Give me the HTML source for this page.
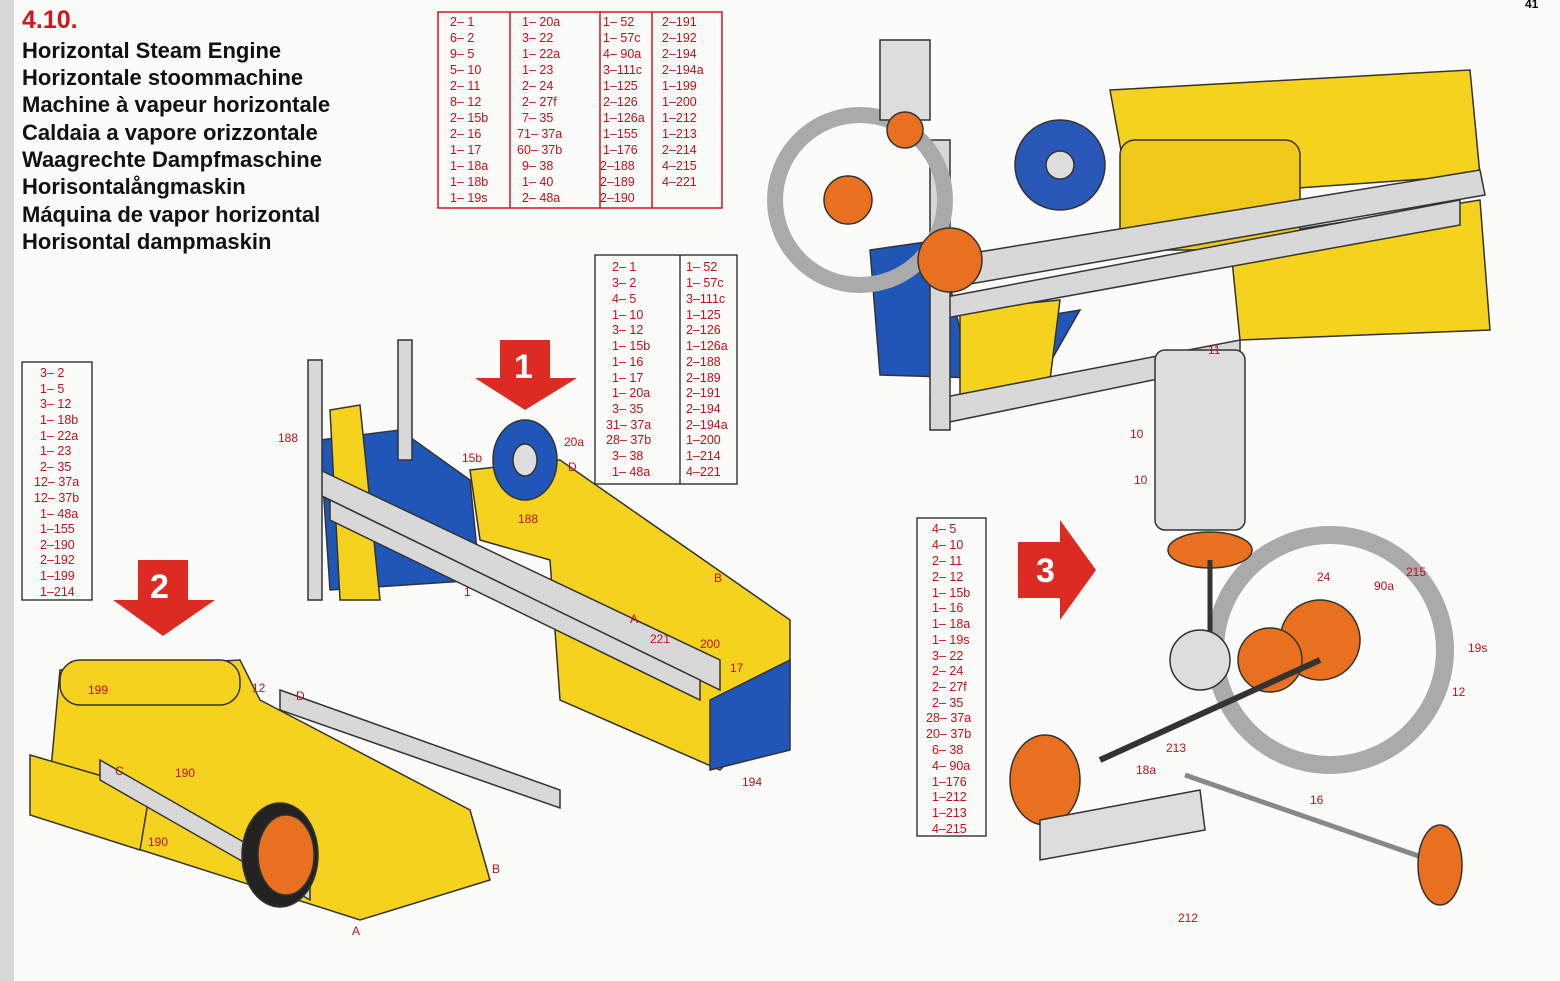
<!DOCTYPE html>
<html><head><meta charset="utf-8"><style>
html,body{margin:0;padding:0;background:#fbfbf9}
svg{display:block}
.t{font-family:"Liberation Sans",sans-serif;font-weight:bold;font-size:22px;fill:#111}
.n{font-family:"Liberation Sans",sans-serif;font-size:12.5px;fill:#c0101a}
.l{font-family:"Liberation Sans",sans-serif;font-size:12px;fill:#c0101a}
</style></head><body>
<svg width="1560" height="981" viewBox="0 0 1560 981" xmlns="http://www.w3.org/2000/svg">
<rect x="0" y="0" width="1560" height="981" fill="#fbfbf9"/>
<rect x="0" y="0" width="14" height="981" fill="#d8d8d4"/>
<text x="22" y="28" style="font-family:'Liberation Sans',sans-serif;font-weight:bold;font-size:25px;fill:#d4141e">4.10.</text>
<text class="t" x="22" y="58">Horizontal Steam Engine</text>
<text class="t" x="22" y="85">Horizontale stoommachine</text>
<text class="t" x="22" y="112">Machine à vapeur horizontale</text>
<text class="t" x="22" y="140">Caldaia a vapore orizzontale</text>
<text class="t" x="22" y="167">Waagrechte Dampfmaschine</text>
<text class="t" x="22" y="194">Horisontalångmaskin</text>
<text class="t" x="22" y="222">Máquina de vapor horizontal</text>
<text class="t" x="22" y="249">Horisontal dampmaskin</text>
<text x="1525" y="8" style="font-family:'Liberation Sans',sans-serif;font-weight:bold;font-size:12px">41</text>

<g stroke="#d4141e" stroke-width="1.5" fill="none">
<rect x="438" y="12" width="284" height="196"/>
<line x1="510" y1="12" x2="510" y2="208"/><line x1="600" y1="12" x2="600" y2="208"/><line x1="652" y1="12" x2="652" y2="208"/>
</g>
<g class="n">
<text x="450" y="26">2–  1</text><text x="450" y="42">6–  2</text><text x="450" y="58">9–  5</text><text x="450" y="74">5–  10</text><text x="450" y="90">2–  11</text><text x="450" y="106">8–  12</text><text x="450" y="122">2–  15b</text><text x="450" y="138">2–  16</text><text x="450" y="154">1–  17</text><text x="450" y="170">1–  18a</text><text x="450" y="186">1–  18b</text><text x="450" y="202">1–  19s</text>
<text x="522" y="26">1–  20a</text><text x="522" y="42">3–  22</text><text x="522" y="58">1–  22a</text><text x="522" y="74">1–  23</text><text x="522" y="90">2–  24</text><text x="522" y="106">2–  27f</text><text x="522" y="122">7–  35</text><text x="517" y="138">71–  37a</text><text x="517" y="154">60–  37b</text><text x="522" y="170">9–  38</text><text x="522" y="186">1–  40</text><text x="522" y="202">2–  48a</text>
<text x="603" y="26">1–  52</text><text x="603" y="42">1–  57c</text><text x="603" y="58">4–  90a</text><text x="603" y="74">3–111c</text><text x="603" y="90">1–125</text><text x="603" y="106">2–126</text><text x="603" y="122">1–126a</text><text x="603" y="138">1–155</text><text x="603" y="154">1–176</text><text x="600" y="170">2–188</text><text x="600" y="186">2–189</text><text x="600" y="202">2–190</text>
<text x="662" y="26">2–191</text><text x="662" y="42">2–192</text><text x="662" y="58">2–194</text><text x="662" y="74">2–194a</text><text x="662" y="90">1–199</text><text x="662" y="106">1–200</text><text x="662" y="122">1–212</text><text x="662" y="138">1–213</text><text x="662" y="154">2–214</text><text x="662" y="170">4–215</text><text x="662" y="186">4–221</text>
</g>

<g stroke="#222" stroke-width="1.3" fill="none">
<rect x="595" y="255" width="142" height="229"/><line x1="680" y1="255" x2="680" y2="484"/>
</g>
<g class="n">
<text x="612" y="271">2–  1</text><text x="612" y="287">3–  2</text><text x="612" y="303">4–  5</text><text x="612" y="319">1–  10</text><text x="612" y="334">3–  12</text><text x="612" y="350">1–  15b</text><text x="612" y="366">1–  16</text><text x="612" y="382">1–  17</text><text x="612" y="397">1–  20a</text><text x="612" y="413">3–  35</text><text x="606" y="429">31–  37a</text><text x="606" y="444">28–  37b</text><text x="612" y="460">3–  38</text><text x="612" y="476">1–  48a</text>
<text x="686" y="271">1–  52</text><text x="686" y="287">1–  57c</text><text x="686" y="303">3–111c</text><text x="686" y="319">1–125</text><text x="686" y="334">2–126</text><text x="686" y="350">1–126a</text><text x="686" y="366">2–188</text><text x="686" y="382">2–189</text><text x="686" y="397">2–191</text><text x="686" y="413">2–194</text><text x="686" y="429">2–194a</text><text x="686" y="444">1–200</text><text x="686" y="460">1–214</text><text x="686" y="476">4–221</text>
</g>

<rect x="22" y="362" width="70" height="238" fill="none" stroke="#222" stroke-width="1.3"/>
<g class="n">
<text x="40" y="377">3–  2</text><text x="40" y="393">1–  5</text><text x="40" y="408">3–  12</text><text x="40" y="424">1–  18b</text><text x="40" y="440">1–  22a</text><text x="40" y="455">1–  23</text><text x="40" y="471">2–  35</text><text x="34" y="486">12–  37a</text><text x="34" y="502">12–  37b</text><text x="40" y="518">1–  48a</text><text x="40" y="533">1–155</text><text x="40" y="549">2–190</text><text x="40" y="564">2–192</text><text x="40" y="580">1–199</text><text x="40" y="596">1–214</text>
</g>

<rect x="917" y="518" width="69" height="318" fill="none" stroke="#222" stroke-width="1.3"/>
<g class="n">
<text x="932" y="533">4–  5</text><text x="932" y="549">4–  10</text><text x="932" y="565">2–  11</text><text x="932" y="581">2–  12</text><text x="932" y="597">1–  15b</text><text x="932" y="612">1–  16</text><text x="932" y="628">1–  18a</text><text x="932" y="644">1–  19s</text><text x="932" y="660">3–  22</text><text x="932" y="675">2–  24</text><text x="932" y="691">2–  27f</text><text x="932" y="707">2–  35</text><text x="926" y="722">28–  37a</text><text x="926" y="738">20–  37b</text><text x="932" y="754">6–  38</text><text x="932" y="770">4–  90a</text><text x="932" y="786">1–176</text><text x="932" y="801">1–212</text><text x="932" y="817">1–213</text><text x="932" y="833">4–215</text>
</g>

<g fill="#dd2a22">
<polygon points="500,340 550,340 550,378 577,378 525,410 475,378 500,378"/>
<polygon points="138,560 188,560 188,600 215,600 163,636 113,600 138,600"/>
<polygon points="1018,542 1060,542 1060,520 1096,570 1060,620 1060,598 1018,598"/>
</g>
<g style="font-family:'Liberation Sans',sans-serif;font-weight:bold;font-size:34px;fill:#fff">
<text x="514" y="378">1</text><text x="150" y="598">2</text><text x="1036" y="582">3</text>
</g>

<g stroke="#333" stroke-width="1.5">
<polygon points="1110,90 1470,70 1480,175 1130,200" fill="#f4d21e"/>
<polygon points="1230,240 1480,200 1490,330 1240,340" fill="#f4d21e"/>
<rect x="1120" y="140" width="180" height="110" rx="15" fill="#f0c81a"/>
<polygon points="870,250 940,240 960,330 1080,310 1040,380 880,375" fill="#1f56b8"/>
<polygon points="960,310 1060,300 1050,380 960,400" fill="#f4d21e"/>
<polygon points="930,260 1480,170 1485,195 935,290" fill="#d8d8d8"/>
<polygon points="930,300 1460,200 1460,225 935,320" fill="#d8d8d8"/>
<polygon points="930,400 1240,340 1240,362 935,425" fill="#d8d8d8"/>
<rect x="930" y="140" width="20" height="290" fill="#d8d8d8"/>
<circle cx="860" cy="200" r="85" fill="none" stroke="#aaa" stroke-width="16"/>
<circle cx="1060" cy="165" r="45" fill="#2a58b8"/>
<circle cx="1060" cy="165" r="14" fill="#ddd"/>
<circle cx="950" cy="260" r="32" fill="#e8701e"/>
<circle cx="848" cy="200" r="24" fill="#e8701e"/>
<rect x="880" y="40" width="50" height="80" fill="#ddd"/>
<circle cx="905" cy="130" r="18" fill="#e8701e"/>
</g>

<g stroke="#333" stroke-width="1.5">
<polygon points="320,440 400,430 470,480 480,580 330,590" fill="#1f56b8"/>
<polygon points="330,410 360,405 380,600 340,600" fill="#f4d21e"/>
<polygon points="470,470 560,460 790,620 790,700 720,770 560,700 550,560 480,540" fill="#f4d21e"/>
<polygon points="710,700 790,660 790,750 710,770" fill="#1f56b8"/>
<polygon points="320,470 720,660 720,690 320,495" fill="#d8d8d8"/>
<polygon points="330,500 700,680 700,700 330,520" fill="#d8d8d8"/>
<rect x="308" y="360" width="14" height="240" fill="#d8d8d8"/>
<rect x="398" y="340" width="14" height="120" fill="#d8d8d8"/>
<ellipse cx="525" cy="460" rx="32" ry="40" fill="#1f56b8"/>
<ellipse cx="525" cy="460" rx="12" ry="16" fill="#ddd"/>
</g>

<g stroke="#333" stroke-width="1.5">
<polygon points="60,670 240,660 260,700 470,810 490,880 360,920 110,840 50,780" fill="#f4d21e"/>
<rect x="60" y="660" width="180" height="45" rx="20" fill="#f4d21e"/>
<polygon points="30,755 150,790 140,850 30,815" fill="#f4d21e"/>
<polygon points="280,690 560,790 560,808 280,710" fill="#d8d8d8"/>
<polygon points="100,760 310,880 310,900 100,780" fill="#d8d8d8"/>
<ellipse cx="280" cy="855" rx="38" ry="52" fill="#222"/>
<ellipse cx="286" cy="855" rx="28" ry="40" fill="#e8701e"/>
</g>

<g stroke="#333" stroke-width="1.5">
<circle cx="1330" cy="650" r="115" fill="none" stroke="#aaa" stroke-width="18"/>
<circle cx="1320" cy="640" r="40" fill="#e8701e"/>
<circle cx="1270" cy="660" r="32" fill="#e8701e"/>
<rect x="1155" y="350" width="90" height="180" rx="10" fill="#ddd"/>
<ellipse cx="1210" cy="550" rx="42" ry="18" fill="#e8701e"/>
<line x1="1210" y1="560" x2="1210" y2="640" stroke-width="5"/>
<circle cx="1200" cy="660" r="30" fill="#ddd"/>
<line x1="1100" y1="760" x2="1320" y2="660" stroke-width="6"/>
<ellipse cx="1045" cy="780" rx="35" ry="45" fill="#e8701e"/>
<polygon points="1040,820 1200,790 1205,830 1040,860" fill="#ddd"/>
<line x1="1185" y1="775" x2="1430" y2="860" stroke-width="5" stroke="#888"/>
<ellipse cx="1440" cy="865" rx="22" ry="40" fill="#e8701e"/>
</g>

<g class="l">
<text x="278" y="442">188</text><text x="462" y="462">15b</text><text x="564" y="446">20a</text><text x="568" y="471">D</text><text x="518" y="523">188</text><text x="464" y="596">1</text><text x="714" y="582">B</text><text x="650" y="643">221</text><text x="630" y="623">A</text><text x="700" y="648">200</text><text x="730" y="672">17</text><text x="742" y="786">194</text>
<text x="88" y="694">199</text><text x="252" y="692">12</text><text x="296" y="700">D</text><text x="115" y="775">C</text><text x="175" y="777">190</text><text x="148" y="846">190</text><text x="492" y="873">B</text><text x="352" y="935">A</text>
<text x="1208" y="354">11</text><text x="1130" y="438">10</text><text x="1134" y="484">10</text><text x="1317" y="581">24</text><text x="1374" y="590">90a</text><text x="1406" y="576">215</text><text x="1468" y="652">19s</text><text x="1452" y="696">12</text><text x="1166" y="752">213</text><text x="1136" y="774">18a</text><text x="1310" y="804">16</text><text x="1178" y="922">212</text>
</g>
</svg>
</body></html>
